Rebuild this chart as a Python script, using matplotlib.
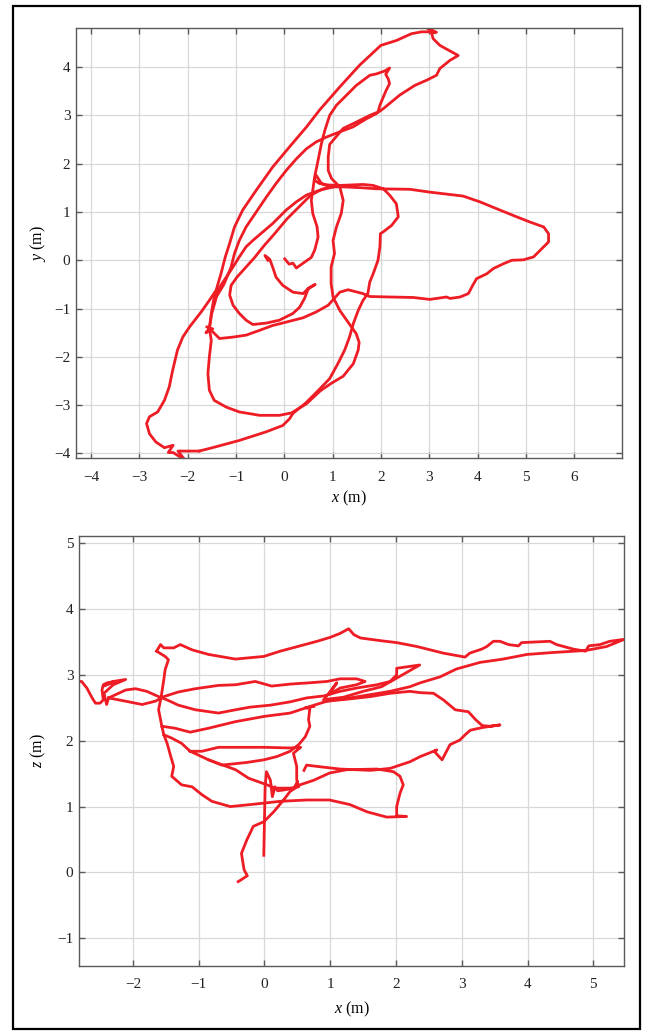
import matplotlib
matplotlib.use("Agg")
import matplotlib.pyplot as plt
from matplotlib.patches import Rectangle

plt.rcParams['font.family'] = ['Liberation Serif', 'DejaVu Serif']
plt.rcParams['mathtext.fontset'] = 'custom'
plt.rcParams['mathtext.rm'] = 'Liberation Serif'
plt.rcParams['mathtext.it'] = 'Liberation Serif:italic'

# ---- top panel (x-y), traced strands in metres ----
xy_outer_x = [-1.76, -2.20, -2.05, -2.30, -2.40, -2.30, -2.48, -2.66, -2.79, -2.85, -2.79, -2.62, -2.48,
              -2.38, -2.31, -2.21, -2.10, -1.96, -1.72, -1.55, -1.41, -1.31, -1.22, -1.13, -1.03, -0.86,
              -0.58, -0.24, 0.11, 0.46, 0.73, 1.15, 1.56, 2.00, 2.32, 2.63, 2.84, 3.10, 2.86, 3.15, 3.05,
              3.08, 3.22, 3.60, 3.43, 3.22, 3.15, 2.95, 2.70, 2.39, 2.22, 2.05, 1.91, 1.70, 1.42, 1.15,
              0.87, 0.66, 0.46, 0.25, 0.04, -0.17, -0.37, -0.58, -0.79, -0.93, -1.03, -1.10, -1.25, -1.40,
              -1.50, -1.55, -1.62, -1.48, -1.60]
xy_outer_y = [-3.95, -3.95, -4.14, -3.98, -3.98, -3.83, -3.88, -3.76, -3.59, -3.38, -3.24, -3.14, -2.90,
              -2.62, -2.28, -1.86, -1.59, -1.38, -1.07, -0.83, -0.62, -0.28, 0.07, 0.35, 0.69, 1.04,
              1.45, 1.93, 2.35, 2.76, 3.11, 3.59, 4.04, 4.45, 4.55, 4.69, 4.73, 4.73, 4.86, 4.72, 4.70,
              4.59, 4.45, 4.24, 4.14, 3.97, 3.83, 3.73, 3.62, 3.42, 3.28, 3.14, 3.04, 2.93, 2.76, 2.66,
              2.55, 2.45, 2.31, 2.10, 1.86, 1.59, 1.31, 1.00, 0.69, 0.41, 0.14, -0.14, -0.50, -0.75,
              -1.10, -1.41, -1.50, -1.42, -1.38]

xy_hook_x = [0.01, 0.10, 0.18, 0.25, 0.39, 0.56, 0.63, 0.70, 0.68, 0.59, 0.56, 0.59, 0.63, 0.70, 0.77,
             0.84, 0.94, 1.08, 1.22, 1.49, 1.77, 1.91, 2.08, 2.18, 2.10, 2.15, 2.18, 2.11, 2.05, 1.98,
             1.94, 1.77, 1.49, 1.22, 0.94, 0.91, 0.91, 0.98, 1.15, 1.22, 1.18, 1.08, 1.01, 1.04, 0.97,
             0.97, 1.01, 1.15, 1.32, 1.49, 1.55, 1.53, 1.43, 1.22, 0.97, 0.75, 0.46, 0.15, -0.10,
             -0.51, -0.93, -1.20, -1.45, -1.55, -1.58, -1.55, -1.51, -1.55]
xy_hook_y = [0.03, -0.08, -0.06, -0.16, -0.06, 0.06, 0.21, 0.48, 0.69, 0.97, 1.24, 1.45, 1.73, 2.07, 2.42,
             2.69, 3.00, 3.21, 3.35, 3.62, 3.83, 3.86, 3.92, 3.98, 3.85, 3.76, 3.66, 3.52, 3.38, 3.21,
             3.07, 3.00, 2.86, 2.73, 2.40, 2.14, 1.86, 1.69, 1.52, 1.24, 0.97, 0.69, 0.41, 0.14, -0.14,
             -0.48, -0.76, -1.04, -1.28, -1.52, -1.70, -1.86, -2.14, -2.40, -2.55, -2.70, -2.97, -3.16, -3.21,
             -3.21, -3.14, -3.04, -2.90, -2.69, -2.35, -2.00, -1.66, -1.41]

xy_east_x = [-1.55, -1.34, -1.06, -0.79, -0.51, -0.24, 0.04, 0.39, 0.66, 0.91, 1.15, 1.32, 1.63, 1.77,
             2.18, 2.67, 3.01, 3.36, 3.43, 3.64, 3.81, 3.90, 3.98, 4.19, 4.33, 4.54, 4.71, 4.95, 5.16,
             5.30, 5.47, 5.47, 5.37, 5.09, 4.81, 4.39, 4.05, 3.70, 3.02, 2.60, 1.91, 1.63, 1.22, 0.94,
             0.77, 0.66, 0.62, 0.73, 0.90, 1.15, 1.63, 1.84, 2.05, 2.18, 2.32, 2.36, 2.22, 2.05, 1.99,
             1.98, 1.94, 1.84, 1.77, 1.73, 1.63, 1.53, 1.43, 1.35, 1.25, 1.11, 0.94, 0.70, 0.45, 0.18,
             0.11, -0.03, -0.37, -0.93, -1.41, -1.76]
xy_east_y = [-1.41, -1.62, -1.59, -1.55, -1.45, -1.35, -1.28, -1.19, -1.07, -0.93, -0.66, -0.61, -0.69, -0.75,
             -0.76, -0.77, -0.81, -0.76, -0.79, -0.76, -0.69, -0.52, -0.38, -0.28, -0.17, -0.07, 0.00, 0.01, 0.07,
             0.21, 0.38, 0.55, 0.69, 0.79, 0.90, 1.07, 1.21, 1.33, 1.41, 1.47, 1.48, 1.50, 1.52, 1.52,
             1.59, 1.76, 1.66, 1.59, 1.56, 1.55, 1.57, 1.55, 1.48, 1.35, 1.17, 0.90, 0.72, 0.59, 0.55,
             0.28, 0.00, -0.28, -0.45, -0.69, -0.83, -1.04, -1.31, -1.59, -1.86, -2.14, -2.45, -2.70, -2.95, -3.17,
             -3.28, -3.42, -3.55, -3.73, -3.86, -3.95]

xy_diag_x = [1.01, 0.73, 0.46, 0.25, 0.04, -0.10, -0.24, -0.44, -0.65, -0.79, -0.93, -1.10, -1.30,
             -1.45, -1.51, -1.55]
xy_diag_y = [1.52, 1.45, 1.35, 1.21, 1.04, 0.90, 0.76, 0.59, 0.41, 0.28, 0.07, -0.20, -0.50,
             -0.76, -1.10, -1.41]

xy_inner_x = [-0.34, -0.40, -0.30, -0.24, -0.17, -0.03, 0.18, 0.39, 0.49, 0.56, 0.64, 0.50, 0.42, 0.32,
              0.18, -0.10, -0.37, -0.65, -0.79, -0.93, -1.06, -1.13, -1.10, -0.98, -0.80, -0.62, -0.42,
              -0.20, 0.05, 0.30, 0.55, 0.80, 1.01]
xy_inner_y = [0.00, 0.10, 0.02, -0.14, -0.35, -0.52, -0.66, -0.69, -0.59, -0.55, -0.50, -0.58, -0.79, -0.97,
              -1.10, -1.24, -1.30, -1.33, -1.24, -1.10, -0.93, -0.72, -0.52, -0.35, -0.15, 0.05, 0.30,
              0.55, 0.85, 1.10, 1.35, 1.48, 1.52]

# ---- bottom panel (x-z) ----
xz_top_x = [-1.64, -1.58, -1.53, -1.38, -1.28, -1.10, -0.85, -0.44, -0.01, 0.24, 0.54, 0.80, 1.00, 1.15,
            1.28, 1.36, 1.46, 1.76, 2.01, 2.32, 2.72, 3.05, 3.12, 3.30, 3.38, 3.48, 3.58, 3.71, 3.86, 3.91,
            4.34, 4.44, 4.70, 4.88, 4.93, 5.10, 5.25, 5.47, 5.20, 4.88, 4.39, 3.99, 3.63, 3.28, 2.92,
            2.67, 2.37, 2.21, 1.91, 1.61, 1.30, 1.05, 0.95]
xz_top_z = [3.36, 3.46, 3.41, 3.41, 3.46, 3.38, 3.31, 3.24, 3.28, 3.36, 3.44, 3.51, 3.57, 3.63,
            3.70, 3.61, 3.56, 3.52, 3.49, 3.43, 3.33, 3.27, 3.33, 3.39, 3.43, 3.51, 3.51, 3.46, 3.44, 3.49,
            3.51, 3.46, 3.39, 3.36, 3.44, 3.46, 3.51, 3.54, 3.43, 3.37, 3.34, 3.31, 3.24, 3.19, 3.09,
            2.97, 2.88, 2.82, 2.75, 2.70, 2.65, 2.62, 2.60]

xz_west_x = [-1.64, -1.51, -1.46, -1.51, -1.53, -1.57, -1.61, -1.58, -1.56, -1.53, -1.48, -1.43, -1.38,
             -1.41, -1.26, -1.10, -0.95, -0.80, -0.52, -0.22, 0.24, 0.64, 0.99, 1.30, 1.56, 1.86, 2.16,
             2.01, 2.01, 2.06, 2.11, 2.06, 1.96, 1.71, 1.25, 0.99, 0.75, 0.54, 0.39, 0.29, 0.14, -0.01,
             -0.17, -0.27, -0.35, -0.31, -0.26, -0.40]
xz_west_z = [3.36, 3.28, 3.23, 3.08, 2.93, 2.67, 2.47, 2.32, 2.22, 2.09, 1.96, 1.78, 1.61,
             1.46, 1.33, 1.30, 1.18, 1.08, 1.00, 1.03, 1.08, 1.10, 1.10, 1.03, 0.92, 0.84, 0.85,
             0.86, 1.00, 1.20, 1.33, 1.46, 1.53, 1.57, 1.56, 1.51, 1.40, 1.33, 1.23, 1.10, 0.92, 0.77,
             0.70, 0.49, 0.29, 0.04, -0.05, -0.14]

xz_tail_x = [-2.88, -2.78, -2.70, -2.62, -2.57, -2.50, -2.45, -2.47, -2.45, -2.39, -2.27, -2.45, -2.30,
             -2.11, -2.30, -2.44, -2.40, -2.37]
xz_tail_z = [2.90, 2.90, 2.80, 2.65, 2.57, 2.57, 2.62, 2.77, 2.85, 2.88, 2.90, 2.83, 2.90,
             2.93, 2.85, 2.72, 2.55, 2.65]

xz_upper_x = [-2.37, -2.11, -1.96, -1.79, -1.61, -1.48, -1.31, -1.05, -0.70, -0.44, -0.22, 0.09, 0.39,
              0.64, 0.90, 1.15, 1.40, 1.71, 1.91, 2.01, 2.01, 2.36, 1.78, 1.50, 1.20, 0.95]
xz_upper_z = [2.65, 2.77, 2.79, 2.75, 2.67, 2.62, 2.54, 2.47, 2.42, 2.47, 2.51, 2.54, 2.59,
              2.65, 2.68, 2.75, 2.80, 2.85, 2.90, 3.00, 3.10, 3.15, 2.82, 2.75, 2.66, 2.63]

xz_lower_x = [-2.37, -2.11, -1.86, -1.66, -1.53, -1.31, -1.05, -0.70, -0.44, -0.14, 0.11, 0.39, 0.69,
              0.95, 1.15, 1.40, 1.53, 1.40, 1.15, 0.98, 1.10, 0.90]
xz_lower_z = [2.65, 2.60, 2.55, 2.60, 2.67, 2.74, 2.79, 2.84, 2.85, 2.90, 2.83, 2.86, 2.88,
              2.90, 2.94, 2.94, 2.90, 2.85, 2.80, 2.70, 2.88, 2.62]

xz_mid_x = [-1.56, -1.36, -1.13, -0.85, -0.44, 0.00, 0.39, 0.69, 0.95, 1.25, 1.61, 1.91, 2.21, 2.37,
            2.57, 2.72, 2.90, 3.10, 3.21, 3.31, 3.43, 3.58, 3.31, 3.13, 3.05, 2.97, 2.82, 2.70, 2.58,
            2.62, 2.37, 2.21, 1.91, 1.61, 1.15, 0.80, 0.64, 0.60]
xz_mid_z = [2.22, 2.19, 2.13, 2.19, 2.29, 2.37, 2.42, 2.52, 2.60, 2.63, 2.67, 2.72, 2.75, 2.73,
            2.72, 2.62, 2.47, 2.44, 2.32, 2.23, 2.22, 2.24, 2.20, 2.16, 2.09, 2.01, 1.94, 1.71, 1.84,
            1.86, 1.76, 1.68, 1.58, 1.55, 1.57, 1.61, 1.63, 1.55]

xz_fold_x = [-1.53, -1.41, -1.26, -1.13, -0.95, -0.70, 0.00, 0.39, 0.55, 0.44, 0.49, 0.49, 0.52, 0.39,
             0.16, 0.04, -0.24, -0.44, -0.85, -1.13]
xz_fold_z = [2.09, 2.04, 1.96, 1.84, 1.84, 1.90, 1.90, 1.89, 1.90, 1.81, 1.61, 1.41, 1.30, 1.28,
             1.28, 1.33, 1.43, 1.56, 1.71, 1.84]

xz_s_x = [-0.85, -0.65, -0.27, -0.01, 0.19, 0.39, 0.52, 0.62, 0.69, 0.67, 0.69, 0.62, 0.75]
xz_s_z = [1.71, 1.63, 1.67, 1.71, 1.76, 1.84, 1.94, 2.06, 2.22, 2.32, 2.49, 2.50, 2.52]

xz_spike_x = [-0.01, 0.00, 0.01, 0.03, 0.09, 0.12, 0.16, 0.20, 0.28, 0.45, 0.50]
xz_spike_z = [0.26, 0.80, 1.30, 1.53, 1.40, 1.15, 1.30, 1.24, 1.25, 1.28, 1.38]

red = '#ee1c25'
fig = plt.figure(figsize=(6.49, 10.32), dpi=100)

ax1 = fig.add_axes([0.1171, 0.5559, 0.8413, 0.4170])
for xs, ys in [(xy_outer_x, xy_outer_y), (xy_hook_x, xy_hook_y), (xy_east_x, xy_east_y),
               (xy_diag_x, xy_diag_y), (xy_inner_x, xy_inner_y)]:
    ax1.plot(xs, ys, color=red, lw=2.0, solid_joinstyle='round')
ax1.set_xlim(-4.31, 6.99)
ax1.set_ylim(-4.10, 4.81)
ax1.set_xticks(range(-4, 7))
ax1.set_yticks(range(-4, 5))

ax2 = fig.add_axes([0.1217, 0.0640, 0.8402, 0.4167])
for xs, zs in [(xz_top_x, xz_top_z), (xz_west_x, xz_west_z), (xz_tail_x, xz_tail_z),
               (xz_upper_x, xz_upper_z), (xz_lower_x, xz_lower_z), (xz_mid_x, xz_mid_z),
               (xz_fold_x, xz_fold_z), (xz_s_x, xz_s_z), (xz_spike_x, xz_spike_z)]:
    ax2.plot(xs, zs, color=red, lw=2.0, solid_joinstyle='round')
ax2.set_xlim(-2.82, 5.47)
ax2.set_ylim(-1.42, 5.11)
ax2.set_xticks(range(-2, 6))
ax2.set_yticks(range(-1, 6))

for ax in (ax1, ax2):
    ax.grid(True, color='#d8d8d8', lw=0.9)
    ax.set_axisbelow(True)
    for s in ax.spines.values():
        s.set_color('#5a5a5a')
        s.set_linewidth(1.0)
    ax.tick_params(direction='in', length=4, width=1.0, color='#5a5a5a',
                   top=True, right=True, labelsize=11, labelcolor='#222222')
    ax.tick_params(axis='x', pad=9)
    ax.tick_params(axis='y', pad=4)

ax1.set_xlabel('$x$ (m)', fontsize=11.5)
ax1.set_ylabel('$y$ (m)', fontsize=11.5)
ax2.set_xlabel('$x$ (m)', fontsize=11.5)
ax2.set_ylabel('$z$ (m)', fontsize=11.5)
for lab in (ax1.xaxis.label, ax1.yaxis.label, ax2.xaxis.label, ax2.yaxis.label):
    lab.set_va('center')
ax1.xaxis.set_label_coords(0.5, -0.092)
ax1.yaxis.set_label_coords(-0.069, 0.5)
ax2.xaxis.set_label_coords(0.5, -0.101)
ax2.yaxis.set_label_coords(-0.075, 0.5)

# thin black frame around the whole figure
fig.patches.append(Rectangle((13 / 649, 1 - 1029 / 1032), 627 / 649, 1023 / 1032,
                             transform=fig.transFigure, fill=False, edgecolor='black', lw=1.6))

fig.savefig('out.png', dpi=100)
